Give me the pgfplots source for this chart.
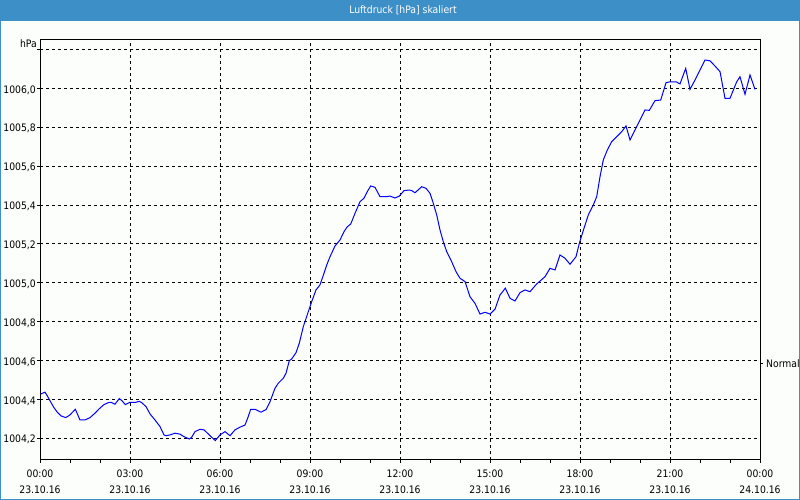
\documentclass[border=0pt]{standalone}
\usepackage{pgfplots}
\pgfplotsset{compat=1.18}
\usepackage{fontspec}
\setmainfont{DejaVu Sans Condensed}
\definecolor{titleblue}{RGB}{61,143,199}
\definecolor{bgc}{RGB}{252,254,252}
\pgfplotstableread{
h v
0.033 1004.428
0.167 1004.437
0.243 1004.418
0.333 1004.393
0.467 1004.357
0.577 1004.334
0.700 1004.315
0.857 1004.306
1.000 1004.320
1.177 1004.349
1.333 1004.294
1.500 1004.294
1.667 1004.306
1.833 1004.329
1.977 1004.352
2.133 1004.373
2.277 1004.383
2.367 1004.385
2.500 1004.375
2.643 1004.404
2.733 1004.393
2.843 1004.373
3.000 1004.385
3.200 1004.385
3.310 1004.390
3.390 1004.383
3.533 1004.363
3.667 1004.325
3.833 1004.294
4.000 1004.260
4.133 1004.217
4.200 1004.213
4.333 1004.217
4.500 1004.226
4.667 1004.221
4.800 1004.208
4.977 1004.196
5.057 1004.205
5.167 1004.234
5.333 1004.246
5.467 1004.243
5.610 1004.222
5.723 1004.205
5.843 1004.188
6.000 1004.217
6.167 1004.234
6.333 1004.213
6.500 1004.243
6.667 1004.257
6.833 1004.268
6.923 1004.303
7.023 1004.349
7.167 1004.349
7.367 1004.334
7.533 1004.347
7.667 1004.388
7.833 1004.457
7.943 1004.483
8.110 1004.509
8.200 1004.534
8.310 1004.599
8.390 1004.608
8.533 1004.640
8.643 1004.689
8.777 1004.774
8.943 1004.851
9.057 1004.903
9.200 1004.963
9.333 1004.989
9.467 1005.049
9.557 1005.091
9.667 1005.134
9.833 1005.189
10.000 1005.220
10.133 1005.263
10.243 1005.288
10.357 1005.302
10.500 1005.357
10.667 1005.417
10.800 1005.435
10.910 1005.469
11.023 1005.498
11.167 1005.491
11.333 1005.443
11.557 1005.443
11.667 1005.446
11.833 1005.436
11.977 1005.446
12.133 1005.474
12.310 1005.477
12.390 1005.474
12.500 1005.463
12.723 1005.494
12.867 1005.486
13.000 1005.460
13.110 1005.409
13.223 1005.349
13.333 1005.272
13.443 1005.211
13.557 1005.160
13.723 1005.108
13.867 1005.057
14.000 1005.023
14.167 1005.006
14.333 1004.928
14.500 1004.894
14.667 1004.839
14.833 1004.848
15.000 1004.839
15.167 1004.864
15.333 1004.937
15.510 1004.972
15.667 1004.920
15.833 1004.906
16.000 1004.949
16.167 1004.963
16.333 1004.954
16.557 1004.994
16.833 1005.031
17.000 1005.074
17.167 1005.066
17.333 1005.143
17.500 1005.126
17.667 1005.095
17.867 1005.134
17.977 1005.203
18.133 1005.280
18.277 1005.349
18.443 1005.400
18.557 1005.443
18.667 1005.546
18.777 1005.632
18.910 1005.683
19.057 1005.726
19.277 1005.760
19.390 1005.777
19.533 1005.807
19.667 1005.735
19.833 1005.786
20.000 1005.837
20.167 1005.889
20.310 1005.887
20.500 1005.937
20.690 1005.940
20.867 1006.029
21.000 1006.034
21.200 1006.034
21.333 1006.023
21.523 1006.103
21.667 1005.995
21.833 1006.043
22.167 1006.146
22.333 1006.142
22.500 1006.115
22.667 1006.086
22.833 1005.949
23.000 1005.949
23.223 1006.034
23.333 1006.060
23.500 1005.970
23.667 1006.069
23.833 1005.995
}\druck
\begin{document}
\begin{tikzpicture}
\fill[bgc] (0,0) rectangle (800pt,500pt);
\fill[titleblue] (0,479pt) rectangle (800pt,500pt);
\draw[titleblue, line width=1pt] (0.5pt,0.5pt) rectangle (799.5pt,499.5pt);
\node[white, font=\fontsize{10.3}{12}\selectfont] at (403pt,489.5pt) {Luftdruck [hPa] skaliert};
\node[anchor=east, inner sep=0pt, font=\fontsize{10.3}{12}\selectfont] at (37pt,456pt) {hPa};
\begin{axis}[
  at={(40pt,40pt)}, anchor=south west, scale only axis,
  width=720pt, height=420pt,
  xmin=0, xmax=24, ymin=1004.088, ymax=1006.249,
  font=\fontsize{10.3}{16}\selectfont,
  /pgf/number format/assume math mode=true,
  axis line style={black, line width=1pt},
  tick pos=left, tick align=outside,
  major tick length=3pt, minor tick length=3pt,
  tick style={black, line width=0.8pt},
  xtick={0,3,6,9,12,15,18,21,24},
  minor xtick={1,2,4,5,7,8,10,11,13,14,16,17,19,20,22,23},
  xticklabels={{00:00\\23.10.16},{03:00\\23.10.16},{06:00\\23.10.16},{09:00\\23.10.16},{12:00\\23.10.16},{15:00\\23.10.16},{18:00\\23.10.16},{21:00\\23.10.16},{00:00\\24.10.16}},
  xticklabel style={align=center, inner sep=0pt, yshift=-7pt, font=\fontsize{10.3}{16}\selectfont},
  ytick={1004.2,1004.4,1004.6,1004.8,1005.0,1005.2,1005.4,1005.6,1005.8,1006.0,1006.2},
  yticklabels={{1004,2},{1004,4},{1004,6},{1004,8},{1005,0},{1005,2},{1005,4},{1005,6},{1005,8},{1006,0},{}},
  yticklabel style={anchor=east, inner sep=0pt, xshift=-1pt, yshift=-1.5pt},
  grid=major,
  major grid style={black, line width=0.8pt, dash pattern=on 3pt off 3pt},
]
\addplot[blue, line width=1pt, mark=none] table[x=h, y=v] {\druck};
\end{axis}
\begin{axis}[
  at={(40pt,40pt)}, anchor=south west, scale only axis,
  width=720pt, height=420pt,
  xmin=0, xmax=24, ymin=1004.088, ymax=1006.249,
  font=\fontsize{10.3}{16}\selectfont,
  hide x axis,
  axis y line*=right,
  axis line style={black, line width=1pt},
  tick align=outside, major tick length=3pt,
  tick style={black, line width=0.8pt},
  ytick={1004.586}, yticklabels={Normal},
  yticklabel style={anchor=west, inner sep=0pt, xshift=3pt},
]
\end{axis}
\end{tikzpicture}
\end{document}
